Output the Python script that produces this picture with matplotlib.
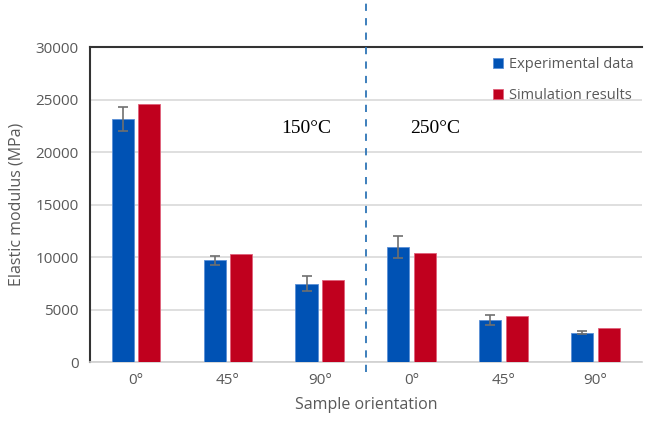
import numpy as np
import matplotlib.pyplot as plt

orientations = ["0°", "45°", "90°", "0°", "45°", "90°"]
experimental = [23150, 9700, 7450, 11000, 4000, 2800]
exp_error = [1150, 450, 720, 1050, 450, 120]
simulation = [24550, 10300, 7850, 10350, 4420, 3280]

blue = "#0052B4"
red = "#C0001E"
grey_txt = "#595959"

plt.rcParams["font.family"] = ["Open Sans", "DejaVu Sans"]

fig = plt.figure(figsize=(6.48, 4.29), dpi=100)
ax = fig.add_axes([0.139, 0.156, 0.851, 0.734])

x = np.arange(len(orientations))
w = 0.24
ax.bar(x - 0.145, experimental, w, color=blue, edgecolor="#5B8FD6", linewidth=0.6,
       yerr=exp_error, capsize=3.5, error_kw=dict(ecolor="#6f6f6f", elinewidth=1.2, capthick=1.2),
       label="Experimental data", zorder=3)
ax.bar(x + 0.145, simulation, w, color=red, edgecolor="#E0607A", linewidth=0.6,
       label="Simulation results", zorder=3)

ax.set_xlim(-0.5, len(orientations) - 0.5)
ax.set_ylim(0, 30000)
ax.set_yticks(np.arange(0, 30001, 5000))
ax.set_xticks(x)
ax.set_xticklabels(orientations)
ax.yaxis.grid(True, color="#d9d9d9", linewidth=1.2, zorder=0)
ax.set_axisbelow(True)
ax.tick_params(length=0, labelsize=11, colors=grey_txt, pad=8)

ax.spines["right"].set_visible(False)
ax.spines["bottom"].set_color("#d0d0d0")
ax.spines["bottom"].set_linewidth(1.2)
for side in ["top", "left"]:
    ax.spines[side].set_color("#333333")
    ax.spines[side].set_linewidth(1.5)

ax.set_ylabel("Elastic modulus (MPa)", fontsize=11.5, color=grey_txt, labelpad=8)
ax.set_xlabel("Sample orientation", fontsize=11.5, color=grey_txt, labelpad=6)

# separator between the two temperatures
ax.axvline(2.5, ymin=-0.03, ymax=1.15, color="#2E75B6", linestyle=(0, (4, 4)),
           linewidth=1.3, clip_on=False, zorder=4)
ax.text(1.85, 22300, "150°C", family=["Liberation Serif"], fontsize=14, ha="center", va="center")
ax.text(3.25, 22300, "250°C", family=["Liberation Serif"], fontsize=14, ha="center", va="center")

ax.legend(loc="upper right", bbox_to_anchor=(1.01, 1.01), frameon=False, fontsize=10.5,
          labelcolor=grey_txt, handlelength=0.7, handleheight=0.7, handletextpad=0.4,
          labelspacing=1.1)

fig.savefig("out.png", dpi=100)
